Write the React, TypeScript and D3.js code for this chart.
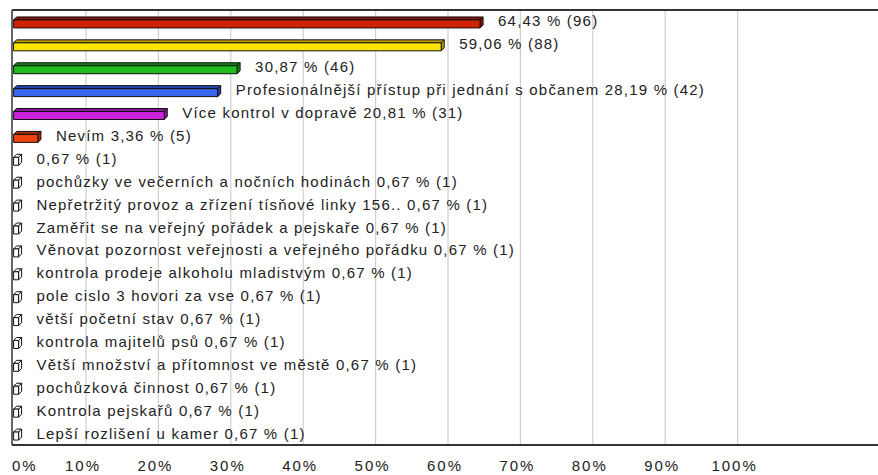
import React from "react";
import * as d3 from "d3";

const labels = [
  "",
  "",
  "",
  "Profesionálnější přístup při jednání s občanem",
  "Více kontrol v dopravě",
  "Nevím",
  "",
  "pochůzky ve večerních a nočních hodinách",
  "Nepřetržitý provoz a zřízení tísňové linky 156..",
  "Zaměřit se na veřejný pořádek a pejskaře",
  "Věnovat pozornost veřejnosti a veřejného pořádku",
  "kontrola prodeje alkoholu mladistvým",
  "pole cislo 3 hovori za vse",
  "větší početní stav",
  "kontrola majitelů psů",
  "Větší množství a přítomnost ve městě",
  "pochůzková činnost",
  "Kontrola pejskařů",
  "Lepší rozlišení u kamer",
];
const percents = [64.43, 59.06, 30.87, 28.19, 20.81, 3.36, 0.67, 0.67, 0.67, 0.67, 0.67, 0.67, 0.67, 0.67, 0.67, 0.67, 0.67, 0.67, 0.67];
const counts = [96, 88, 46, 42, 31, 5, 1, 1, 1, 1, 1, 1, 1, 1, 1, 1, 1, 1, 1];
const frontColors = ["#d02200", "#ffe600", "#1fbb1f", "#3a66ee", "#cc22dd", "#ee4411"];
const topColors = ["#8c1100", "#c0a000", "#138013", "#2244b0", "#8a1599", "#a82a08"];
const ticks = [0, 10, 20, 30, 40, 50, 60, 70, 80, 90, 100];

const width = 878;
const height = 475;
const left = 12;
const top = 10;
const bottom = 445;
const depth = 3;

export default function App() {
  const x = d3.scaleLinear().domain([0, 100]).range([13.6, 737.6]);
  const y = d3.scaleBand<number>().domain(d3.range(labels.length)).range([top, bottom]);
  const fmt = (v: number) => v.toFixed(2).replace(".", ",");

  return (
    <svg width={width} height={height} style={{ position: "absolute", left: 0, top: 0, background: "#fff" }}>
      <g stroke="#cfcfcf" strokeWidth={1.2}>
        {ticks.slice(1).map((t) => (
          <line key={t} x1={x(t)} x2={x(t)} y1={top} y2={bottom} />
        ))}
      </g>
      <line x1={left} x2={width} y1={top} y2={top} stroke="#333" strokeWidth={2} />
      <line x1={left} x2={width} y1={bottom} y2={bottom} stroke="#333" strokeWidth={2} />
      <line x1={left} x2={left} y1={top} y2={bottom} stroke="#333" strokeWidth={1.5} />
      {percents.map((p, i) => {
        const c = y(i)! + y.bandwidth() / 2;
        const x0 = x(0);
        const x1 = Math.max(x(p), x0 + 5);
        const fy0 = c - 1.5;
        const fy1 = c + 6.5;
        const front = i < frontColors.length ? frontColors[i] : "#ffffff";
        const topC = i < topColors.length ? topColors[i] : "#ffffff";
        const text = `${labels[i] ? labels[i] + " " : ""}${fmt(p)} % (${counts[i]})`;
        return (
          <g key={i} stroke="#111" strokeWidth={1} strokeLinejoin="round">
            <path
              d={`M${x0},${fy0}L${x0 + depth},${fy0 - depth}L${x1 + depth},${fy0 - depth}L${x1},${fy0}Z`}
              fill={topC}
            />
            <path
              d={`M${x1},${fy0}L${x1 + depth},${fy0 - depth}L${x1 + depth},${fy1 - depth}L${x1},${fy1}Z`}
              fill={topC}
            />
            <rect x={x0} y={fy0} width={x1 - x0} height={fy1 - fy0} fill={front} />
            <text
              x={x(p) + depth + 15}
              y={c + 5}
              stroke="none"
              fill="#222"
              fontFamily="'Liberation Sans', Arial, sans-serif"
              fontSize={15}
              letterSpacing={1.2}
            >
              {text}
            </text>
          </g>
        );
      })}
      <g fontFamily="'Liberation Sans', Arial, sans-serif" fontSize={15} fill="#222" letterSpacing={2}>
        {ticks.map((t) =>
          t === 0 ? (
            <text key={t} x={12} y={471}>
              {t}%
            </text>
          ) : (
            <text key={t} x={x(t) - 3} y={471} textAnchor="middle">
              {t}%
            </text>
          )
        )}
      </g>
    </svg>
  );
}
